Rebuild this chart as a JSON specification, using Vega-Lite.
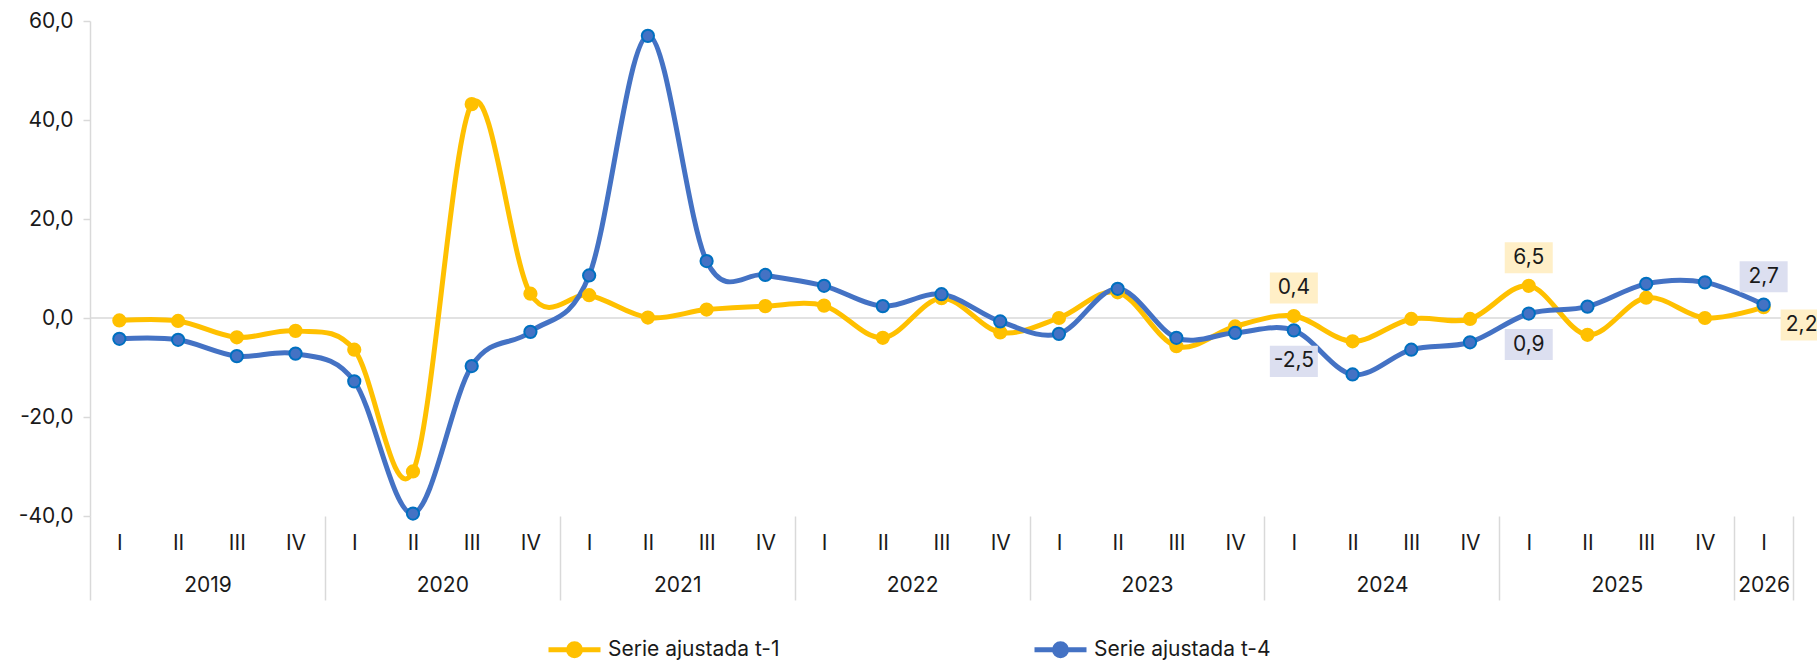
{
  "$schema": "https://vega.github.io/schema/vega-lite/v6.json",
  "width": 1703,
  "height": 495,
  "autosize": {"type": "none"},
  "padding": {"left": 90, "top": 21, "right": 24, "bottom": 145},
  "background": "white",
  "config": {
    "locale": {"number": {"decimal": ",", "thousands": ".", "grouping": [3], "currency": ["", " €"], "minus": "-"}},
    "font": "Inter",
    "view": {"stroke": null},
    "axis": {"labelFont": "Inter", "labelFontSize": 21, "labelColor": "#1a1a1a", "grid": false, "title": null},
    "legend": {"labelFont": "Inter", "labelFontSize": 21, "labelColor": "#1a1a1a", "labelLimit": 400}
  },
  "datasets": {
    "main": [
      {"t": 0, "year": 2019, "quarter": "I", "serie": "Serie ajustada t-1", "value": -0.5},
      {"t": 1, "year": 2019, "quarter": "II", "serie": "Serie ajustada t-1", "value": -0.6},
      {"t": 2, "year": 2019, "quarter": "III", "serie": "Serie ajustada t-1", "value": -3.9},
      {"t": 3, "year": 2019, "quarter": "IV", "serie": "Serie ajustada t-1", "value": -2.6},
      {"t": 4, "year": 2020, "quarter": "I", "serie": "Serie ajustada t-1", "value": -6.4},
      {"t": 5, "year": 2020, "quarter": "II", "serie": "Serie ajustada t-1", "value": -31.0},
      {"t": 6, "year": 2020, "quarter": "III", "serie": "Serie ajustada t-1", "value": 43.2},
      {"t": 7, "year": 2020, "quarter": "IV", "serie": "Serie ajustada t-1", "value": 4.9},
      {"t": 8, "year": 2021, "quarter": "I", "serie": "Serie ajustada t-1", "value": 4.6},
      {"t": 9, "year": 2021, "quarter": "II", "serie": "Serie ajustada t-1", "value": 0.1},
      {"t": 10, "year": 2021, "quarter": "III", "serie": "Serie ajustada t-1", "value": 1.7},
      {"t": 11, "year": 2021, "quarter": "IV", "serie": "Serie ajustada t-1", "value": 2.4},
      {"t": 12, "year": 2022, "quarter": "I", "serie": "Serie ajustada t-1", "value": 2.5},
      {"t": 13, "year": 2022, "quarter": "II", "serie": "Serie ajustada t-1", "value": -4.0},
      {"t": 14, "year": 2022, "quarter": "III", "serie": "Serie ajustada t-1", "value": 4.0},
      {"t": 15, "year": 2022, "quarter": "IV", "serie": "Serie ajustada t-1", "value": -2.9},
      {"t": 16, "year": 2023, "quarter": "I", "serie": "Serie ajustada t-1", "value": 0.0},
      {"t": 17, "year": 2023, "quarter": "II", "serie": "Serie ajustada t-1", "value": 5.2},
      {"t": 18, "year": 2023, "quarter": "III", "serie": "Serie ajustada t-1", "value": -5.7},
      {"t": 19, "year": 2023, "quarter": "IV", "serie": "Serie ajustada t-1", "value": -1.7},
      {"t": 20, "year": 2024, "quarter": "I", "serie": "Serie ajustada t-1", "value": 0.4},
      {"t": 21, "year": 2024, "quarter": "II", "serie": "Serie ajustada t-1", "value": -4.7},
      {"t": 22, "year": 2024, "quarter": "III", "serie": "Serie ajustada t-1", "value": -0.2},
      {"t": 23, "year": 2024, "quarter": "IV", "serie": "Serie ajustada t-1", "value": -0.2},
      {"t": 24, "year": 2025, "quarter": "I", "serie": "Serie ajustada t-1", "value": 6.5},
      {"t": 25, "year": 2025, "quarter": "II", "serie": "Serie ajustada t-1", "value": -3.4},
      {"t": 26, "year": 2025, "quarter": "III", "serie": "Serie ajustada t-1", "value": 4.1},
      {"t": 27, "year": 2025, "quarter": "IV", "serie": "Serie ajustada t-1", "value": 0.0},
      {"t": 28, "year": 2026, "quarter": "I", "serie": "Serie ajustada t-1", "value": 2.2},
      {"t": 0, "year": 2019, "quarter": "I", "serie": "Serie ajustada t-4", "value": -4.2},
      {"t": 1, "year": 2019, "quarter": "II", "serie": "Serie ajustada t-4", "value": -4.4},
      {"t": 2, "year": 2019, "quarter": "III", "serie": "Serie ajustada t-4", "value": -7.7},
      {"t": 3, "year": 2019, "quarter": "IV", "serie": "Serie ajustada t-4", "value": -7.2},
      {"t": 4, "year": 2020, "quarter": "I", "serie": "Serie ajustada t-4", "value": -12.8},
      {"t": 5, "year": 2020, "quarter": "II", "serie": "Serie ajustada t-4", "value": -39.5},
      {"t": 6, "year": 2020, "quarter": "III", "serie": "Serie ajustada t-4", "value": -9.7},
      {"t": 7, "year": 2020, "quarter": "IV", "serie": "Serie ajustada t-4", "value": -2.8},
      {"t": 8, "year": 2021, "quarter": "I", "serie": "Serie ajustada t-4", "value": 8.6},
      {"t": 9, "year": 2021, "quarter": "II", "serie": "Serie ajustada t-4", "value": 57.0},
      {"t": 10, "year": 2021, "quarter": "III", "serie": "Serie ajustada t-4", "value": 11.5},
      {"t": 11, "year": 2021, "quarter": "IV", "serie": "Serie ajustada t-4", "value": 8.7},
      {"t": 12, "year": 2022, "quarter": "I", "serie": "Serie ajustada t-4", "value": 6.5},
      {"t": 13, "year": 2022, "quarter": "II", "serie": "Serie ajustada t-4", "value": 2.4},
      {"t": 14, "year": 2022, "quarter": "III", "serie": "Serie ajustada t-4", "value": 4.8},
      {"t": 15, "year": 2022, "quarter": "IV", "serie": "Serie ajustada t-4", "value": -0.7},
      {"t": 16, "year": 2023, "quarter": "I", "serie": "Serie ajustada t-4", "value": -3.2},
      {"t": 17, "year": 2023, "quarter": "II", "serie": "Serie ajustada t-4", "value": 5.9},
      {"t": 18, "year": 2023, "quarter": "III", "serie": "Serie ajustada t-4", "value": -4.0},
      {"t": 19, "year": 2023, "quarter": "IV", "serie": "Serie ajustada t-4", "value": -3.0},
      {"t": 20, "year": 2024, "quarter": "I", "serie": "Serie ajustada t-4", "value": -2.5},
      {"t": 21, "year": 2024, "quarter": "II", "serie": "Serie ajustada t-4", "value": -11.4},
      {"t": 22, "year": 2024, "quarter": "III", "serie": "Serie ajustada t-4", "value": -6.4},
      {"t": 23, "year": 2024, "quarter": "IV", "serie": "Serie ajustada t-4", "value": -4.9},
      {"t": 24, "year": 2025, "quarter": "I", "serie": "Serie ajustada t-4", "value": 0.9},
      {"t": 25, "year": 2025, "quarter": "II", "serie": "Serie ajustada t-4", "value": 2.3},
      {"t": 26, "year": 2025, "quarter": "III", "serie": "Serie ajustada t-4", "value": 6.9},
      {"t": 27, "year": 2025, "quarter": "IV", "serie": "Serie ajustada t-4", "value": 7.2},
      {"t": 28, "year": 2026, "quarter": "I", "serie": "Serie ajustada t-4", "value": 2.7}
    ]
  },
  "data": {"name": "main"},
  "resolve": {"axis": {"x": "independent"}},
  "layer": [
    {
      "data": {"values": [{"zero": 0}]},
      "mark": {"type": "rule", "color": "#D9D9D9", "strokeWidth": 1.5},
      "encoding": {
        "y": {"field": "zero", "type": "quantitative", "scale": {"domain": [-40, 60], "nice": false, "zero": false}}
      }
    },
    {
      "transform": [{"filter": "datum.t == 0 || datum.t == 28"}],
      "mark": {"type": "rule", "opacity": 0},
      "encoding": {
        "x": {"field": "t", "type": "quantitative",
              "axis": {"orient": "bottom", "values": [-0.5, 3.5, 7.5, 11.5, 15.5, 19.5, 23.5, 27.5, 28.5], "labels": false, "domain": false,
                       "ticks": true, "tickSize": 84, "tickColor": "#D9D9D9", "tickWidth": 1.5}},
        "y": {"field": "value", "type": "quantitative"}
      }
    },
    {
      "mark": {"type": "line", "interpolate": "cardinal", "tension": 0, "strokeWidth": 5, "strokeCap": "round"},
      "encoding": {
        "x": {"field": "t", "type": "quantitative", "scale": {"domain": [-0.5, 28.5], "nice": false, "zero": false},
              "axis": {"orient": "bottom", "values": [0,1,2,3,4,5,6,7,8,9,10,11,12,13,14,15,16,17,18,19,20,21,22,23,24,25,26,27,28],
                       "labelExpr": "['I','II','III','IV'][datum.value % 4]", "ticks": false, "domain": false, "labelPadding": 16, "labelFlush": false, "labelOverlap": false}},
        "y": {"field": "value", "type": "quantitative", "scale": {"domain": [-40, 60], "nice": false, "zero": false},
              "axis": {"values": [-40, -20, 0, 20, 40, 60], "format": ".1f", "domainColor": "#D9D9D9", "domainWidth": 1.5, "tickColor": "#D9D9D9", "tickWidth": 1.5, "tickSize": 7, "labelPadding": 10}},
        "color": {"field": "serie", "type": "nominal",
                  "scale": {"domain": ["Serie ajustada t-1", "Serie ajustada t-4"], "range": ["#FFC000", "#4472C4"]},
                  "legend": {"orient": "none", "legendX": 456, "legendY": 600, "direction": "horizontal", "columns": 2, "columnPadding": 244, "padding": 0,
                             "title": null, "symbolType": "M-1,0L1,0M0.23,0A0.23,0.23,0,1,1,-0.23,0A0.23,0.23,0,1,1,0.23,0Z",
                             "symbolSize": 2704, "symbolStrokeWidth": 5, "labelOffset": 5, "labelLimit": 400,
                             "encode": {"symbols": {"update": {"fill": {"scale": "color", "field": "value"}, "stroke": {"scale": "color", "field": "value"}, "strokeWidth": {"value": 5}, "opacity": {"value": 1}}}}}}
      }
    },
    {
      "mark": {"type": "point", "filled": true, "size": 150, "strokeWidth": 2, "opacity": 1},
      "encoding": {
        "x": {"field": "t", "type": "quantitative",
              "axis": {"orient": "bottom", "values": [1.5, 5.5, 9.5, 13.5, 17.5, 21.5, 25.5, 28],
                       "labelExpr": "'' + (2019 + floor(datum.value / 4))", "ticks": false, "domain": false, "labelPadding": 58, "labelFlush": false, "labelOverlap": false}},
        "y": {"field": "value", "type": "quantitative"},
        "color": {"field": "serie", "type": "nominal"},
        "stroke": {"field": "serie", "type": "nominal", "scale": {"domain": ["Serie ajustada t-1", "Serie ajustada t-4"], "range": ["#FFC000", "#0070C0"]}, "legend": null}
      }
    },
    {
      "transform": [{"filter": "datum.serie == 'Serie ajustada t-1' && (datum.t == 20 || datum.t == 24)"}],
      "layer": [
        {
          "mark": {"type": "point", "shape": "M-1,-0.646L1,-0.646L1,0.646L-1,0.646Z", "size": 2304, "filled": true, "fill": "#FFEFC7", "strokeWidth": 0, "opacity": 1, "yOffset": -28},
          "encoding": {
            "x": {"field": "t", "type": "quantitative", "axis": null},
            "y": {"field": "value", "type": "quantitative"}
          }
        },
        {
          "mark": {"type": "text", "fontSize": 21, "font": "Inter", "color": "#1a1a1a", "align": "center", "baseline": "middle", "yOffset": -28},
          "encoding": {
            "x": {"field": "t", "type": "quantitative", "axis": null},
            "y": {"field": "value", "type": "quantitative"},
            "text": {"field": "value", "type": "quantitative", "format": ".1f"}
          }
        }
      ]
    },
    {
      "transform": [{"filter": "datum.serie == 'Serie ajustada t-4' && (datum.t == 20 || datum.t == 24)"}],
      "layer": [
        {
          "mark": {"type": "point", "shape": "M-1,-0.646L1,-0.646L1,0.646L-1,0.646Z", "size": 2304, "filled": true, "fill": "#DCDFF0", "strokeWidth": 0, "opacity": 1, "yOffset": 31},
          "encoding": {
            "x": {"field": "t", "type": "quantitative", "axis": null},
            "y": {"field": "value", "type": "quantitative"}
          }
        },
        {
          "mark": {"type": "text", "fontSize": 21, "font": "Inter", "color": "#1a1a1a", "align": "center", "baseline": "middle", "yOffset": 31},
          "encoding": {
            "x": {"field": "t", "type": "quantitative", "axis": null},
            "y": {"field": "value", "type": "quantitative"},
            "text": {"field": "value", "type": "quantitative", "format": ".1f"}
          }
        }
      ]
    },
    {
      "transform": [{"filter": "datum.serie == 'Serie ajustada t-4' && datum.t == 28"}],
      "layer": [
        {
          "mark": {"type": "point", "shape": "M-1,-0.646L1,-0.646L1,0.646L-1,0.646Z", "size": 2304, "filled": true, "fill": "#DCDFF0", "strokeWidth": 0, "opacity": 1, "yOffset": -28},
          "encoding": {
            "x": {"field": "t", "type": "quantitative", "axis": null},
            "y": {"field": "value", "type": "quantitative"}
          }
        },
        {
          "mark": {"type": "text", "fontSize": 21, "font": "Inter", "color": "#1a1a1a", "align": "center", "baseline": "middle", "yOffset": -28},
          "encoding": {
            "x": {"field": "t", "type": "quantitative", "axis": null},
            "y": {"field": "value", "type": "quantitative"},
            "text": {"field": "value", "type": "quantitative", "format": ".1f"}
          }
        }
      ]
    },
    {
      "transform": [{"filter": "datum.serie == 'Serie ajustada t-1' && datum.t == 28"}],
      "layer": [
        {
          "mark": {"type": "point", "shape": "M-1,-0.646L1,-0.646L1,0.646L-1,0.646Z", "size": 2304, "filled": true, "fill": "#FFEFC7", "strokeWidth": 0, "opacity": 1, "xOffset": 41, "yOffset": 18},
          "encoding": {
            "x": {"field": "t", "type": "quantitative", "axis": null},
            "y": {"field": "value", "type": "quantitative"}
          }
        },
        {
          "mark": {"type": "text", "fontSize": 21, "font": "Inter", "color": "#1a1a1a", "align": "center", "baseline": "middle", "xOffset": 38, "yOffset": 18},
          "encoding": {
            "x": {"field": "t", "type": "quantitative", "axis": null},
            "y": {"field": "value", "type": "quantitative"},
            "text": {"field": "value", "type": "quantitative", "format": ".1f"}
          }
        }
      ]
    }
  ]
}
